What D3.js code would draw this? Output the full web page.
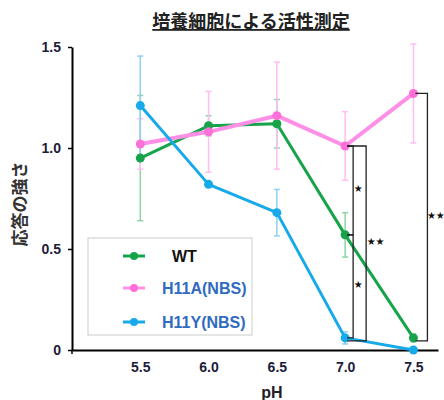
<!DOCTYPE html>
<html>
<head>
<meta charset="utf-8">
<script src="https://cdn.jsdelivr.net/npm/d3@7"></script>
<style>
  body { margin: 0; background: #fff; }
  text { font-family: "Liberation Sans", Arial, sans-serif; }
</style>
</head>
<body>
<div id="chart"></div>
<script>
// pH activity chart

const phValues = [5.5, 6.0, 6.5, 7.0, 7.5];
const wtMean = [0.95, 1.11, 1.12, 0.57, 0.06];
const wtErr = [0.31, 0.05, 0.12, 0.11, 0.02];
const h11aMean = [1.02, 1.08, 1.16, 1.01, 1.27];
const h11aErr = [0.125, 0.2, 0.265, 0.17, 0.245];
const h11yMean = [1.21, 0.82, 0.68, 0.06, 0.0];
const h11yErr = [0.245, 0.0, 0.115, 0.03, 0.0];
const yTicks = [0, 0.5, 1.0, 1.5];
const yTickLabels = ["0", "0.5", "1.0", "1.5"];
const xTickLabels = ["5.5", "6.0", "6.5", "7.0", "7.5"];
// significance: pH, upper value, lower value, label
const sigPh = [7.0, 7.0, 7.0, 7.5];
const sigTop = [1.01, 0.57, 1.01, 1.27];
const sigBottom = [0.57, 0.06, 0.06, 0.06];
const sigLabels = ["★", "★", "★★", "★★"];

function drawChart() {
    const W = 444, H = 400;
    const svg = d3.select("#chart").append("svg")
        .attr("width", W).attr("height", H);

    const x = d3.scaleLinear().domain([5.0, 7.68]).range([72, 438]);
    const y = d3.scaleLinear().domain([0, 1.5]).range([350, 47]);

    // title
    svg.append("text")
        .attr("x", 251).attr("y", 28)
        .attr("text-anchor", "middle")
        .style("font-family", "'Noto Sans CJK JP', sans-serif")
        .style("font-size", "18px")
        .style("font-weight", "bold")
        .style("fill", "#222")
        .style("text-decoration", "underline")
        .text("培養細胞による活性測定");

    // y axis label
    svg.append("text")
        .attr("transform", "translate(26,204) rotate(-90)")
        .attr("text-anchor", "middle")
        .style("font-family", "'Noto Sans CJK JP', sans-serif")
        .style("font-size", "17px")
        .style("font-weight", "bold")
        .style("fill", "#333")
        .text("応答の強さ");

    // x axis label
    svg.append("text")
        .attr("x", 272).attr("y", 398)
        .attr("text-anchor", "middle")
        .style("font-size", "16px")
        .style("font-weight", "bold")
        .style("fill", "#222")
        .text("pH");

    // axes
    const yAxis = svg.append("g")
        .attr("transform", `translate(${x.range()[0]},0)`)
        .call(d3.axisLeft(y).tickValues(yTicks).tickSize(4).tickSizeOuter(0)
            .tickFormat((d, i) => yTickLabels[i]));
    yAxis.select(".domain").attr("stroke", "#000").attr("stroke-width", 2);
    yAxis.selectAll(".tick line").attr("stroke", "#000").attr("stroke-width", 1.5);
    yAxis.selectAll(".tick text")
        .attr("x", -11)
        .style("font-size", "14px").style("font-weight", "bold").style("fill", "#1c1c3a");

    const xAxis = svg.append("g")
        .attr("transform", `translate(0,${y(0)})`)
        .call(d3.axisBottom(x).tickValues(phValues).tickSize(0).tickSizeOuter(0)
            .tickFormat((d, i) => xTickLabels[i]));
    xAxis.select(".domain").attr("stroke", "#000").attr("stroke-width", 2);
    xAxis.selectAll(".tick text")
        .attr("y", 12)
        .style("font-size", "14px").style("font-weight", "bold").style("fill", "#1c1c3a");
    // small tick at the axis origin
    xAxis.append("line")
        .attr("x1", x.range()[0]).attr("x2", x.range()[0])
        .attr("y1", 0).attr("y2", 4)
        .attr("stroke", "#000").attr("stroke-width", 1.5);

    const series = [
        {name: "WT", mean: wtMean, err: wtErr, color: "#16a34a", errColor: "#8fd3a6", width: 3, text: "#111"},
        {name: "H11A(NBS)", mean: h11aMean, err: h11aErr, color: "#ff8fe6", dot: "#ff6fd8", errColor: "#ffbdf2", width: 4, text: "#2f6bc0"},
        {name: "H11Y(NBS)", mean: h11yMean, err: h11yErr, color: "#17aaea", errColor: "#8ed0f2", width: 3, text: "#2f6bc0"}
    ];

    // error bars
    series.forEach(s => {
        const g = svg.append("g");
        phValues.forEach((p, i) => {
            if (s.err[i] <= 0) return;
            const cx = x(p), y1 = y(s.mean[i] + s.err[i]), y2 = y(s.mean[i] - s.err[i]);
            g.append("line").attr("x1", cx).attr("x2", cx).attr("y1", y1).attr("y2", y2)
                .attr("stroke", s.errColor).attr("stroke-width", 1.5);
            [y1, y2].forEach(yy => g.append("line")
                .attr("x1", cx - 3).attr("x2", cx + 3).attr("y1", yy).attr("y2", yy)
                .attr("stroke", s.errColor).attr("stroke-width", 1.5));
        });
    });

    // lines and dots
    const line = d3.line().x((d, i) => x(phValues[i])).y(d => y(d));
    series.forEach(s => {
        svg.append("path")
            .datum(s.mean)
            .attr("d", line)
            .attr("fill", "none")
            .attr("stroke", s.color)
            .attr("stroke-width", s.width)
            .attr("stroke-linejoin", "round");
        svg.selectAll(null)
            .data(s.mean)
            .enter()
            .append("circle")
            .attr("cx", (d, i) => x(phValues[i]))
            .attr("cy", d => y(d))
            .attr("r", 4.5)
            .attr("fill", s.dot || s.color);
    });

    // significance brackets
    const offsets = [8, 8, 21, 14];
    sigPh.forEach((p, i) => {
        const x0 = x(p) + 2, x1 = x(p) + offsets[i];
        const yt = y(sigTop[i]), yb = y(sigBottom[i]) + (i >= 2 ? 3 : 0);
        svg.append("path")
            .attr("d", `M${x0},${yt}H${x1}V${yb}H${x0}`)
            .attr("fill", "none")
            .attr("stroke", "#222")
            .attr("stroke-width", 1.3);
        svg.append("text")
            .attr("x", x1 + (i === 3 ? -0.5 : 0.5))
            .attr("y", (yt + yb) / 2 - 2)
            .attr("dominant-baseline", "central")
            .style("font-family", "'DejaVu Sans', sans-serif")
            .style("font-size", "10px")
            .style("fill", "#111")
            .text(sigLabels[i]);
    });

    // legend
    const legend = svg.append("g").attr("transform", "translate(88,238)");
    legend.append("rect")
        .attr("width", 164).attr("height", 97)
        .attr("fill", "#fff")
        .attr("stroke", "#ccc").attr("stroke-width", 1);
    const rowY = [18, 50, 84];
    const textX = [84, 74, 74];
    series.forEach((s, i) => {
        legend.append("line")
            .attr("x1", 35).attr("x2", 57).attr("y1", rowY[i]).attr("y2", rowY[i])
            .attr("stroke", s.color).attr("stroke-width", 3);
        legend.append("circle")
            .attr("cx", 46).attr("cy", rowY[i]).attr("r", 4)
            .attr("fill", s.dot || s.color);
        legend.append("text")
            .attr("x", textX[i]).attr("y", rowY[i] + 6)
            .style("font-size", "16px")
            .style("font-weight", "bold")
            .style("fill", s.text)
            .text(s.name);
    });
}

document.addEventListener("DOMContentLoaded", drawChart);
</script>
</body>
</html>
